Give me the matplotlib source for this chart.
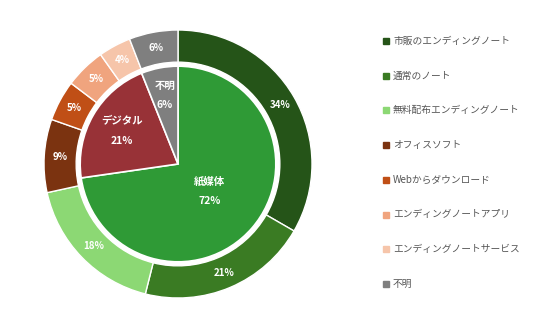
import numpy as np
import matplotlib
matplotlib.use("Agg")
import matplotlib.pyplot as plt
from matplotlib.lines import Line2D

plt.rcParams['font.family'] = ['Noto Sans CJK JP', 'DejaVu Sans']

# Outer ring: detailed breakdown
outer_labels = ["市販のエンディングノート", "通常のノート", "無料配布エンディングノート",
                "オフィスソフト", "Webからダウンロード", "エンディングノートアプリ",
                "エンディングノートサービス", "不明"]
outer_values = [34, 21, 18, 9, 5, 5, 4, 6]
outer_colors = ["#255418", "#3a7b23", "#8cd874", "#7b3310", "#c04f16",
                "#f0a47e", "#f6c5aa", "#7f7f7f"]

# Inner pie: grouped categories
inner_labels = ["紙媒体", "デジタル", "不明"]
inner_values = [72, 21, 6]
inner_colors = ["#2f9a36", "#983237", "#7f7f7f"]
inner_label_radius = [0.31, 0.485, 0.52]

W, H = 536, 328
fig = plt.figure(figsize=(W / 100, H / 100), dpi=100)
cx, cy, R = 178, 164, 134
ax = fig.add_axes([(cx - R) / W, (H - cy - R) / H, 2 * R / W, 2 * R / H])

ring_w = 0.24
outer_wedges, _ = ax.pie(outer_values, radius=1.0, colors=outer_colors,
                         startangle=90, counterclock=False,
                         wedgeprops=dict(width=ring_w, edgecolor='white', linewidth=1.0))
inner_wedges, _ = ax.pie(inner_values, radius=0.73, colors=inner_colors,
                         startangle=90, counterclock=False,
                         wedgeprops=dict(edgecolor='white', linewidth=1.2))
ax.set_xlim(-1, 1)
ax.set_ylim(-1, 1)
ax.set_aspect('equal')
ax.axis('off')

def mid_angle(w):
    return np.deg2rad((w.theta1 + w.theta2) / 2)

r_mid = 1.0 - ring_w / 2
for w, v in zip(outer_wedges, outer_values):
    a = mid_angle(w)
    ax.text(r_mid * np.cos(a), r_mid * np.sin(a), f"{v}%", ha='center', va='center',
            color='white', fontsize=7, fontweight='bold')

for w, lab, v, rf in zip(inner_wedges, inner_labels, inner_values, inner_label_radius):
    a = mid_angle(w)
    x, y = rf * np.cos(a), rf * np.sin(a)
    ax.text(x, y + 0.074, lab, ha='center', va='center', color='white',
            fontsize=7.5, fontweight='bold')
    ax.text(x, y - 0.074, f"{v}%", ha='center', va='center', color='white',
            fontsize=7.5, fontweight='bold')

# Legend on the right
lx, ly0, dy = 386, 41, 34.7
for i, (lab, col) in enumerate(zip(outer_labels, outer_colors)):
    y = ly0 + i * dy
    fig.add_artist(Line2D([lx / W], [1 - y / H], marker='s', markersize=4,
                          color=col, linestyle='none', transform=fig.transFigure))
    fig.text((lx + 7) / W, 1 - y / H, lab, ha='left', va='center',
             fontsize=7, color='#555555')

fig.savefig("out.png", dpi=100, facecolor='white')
